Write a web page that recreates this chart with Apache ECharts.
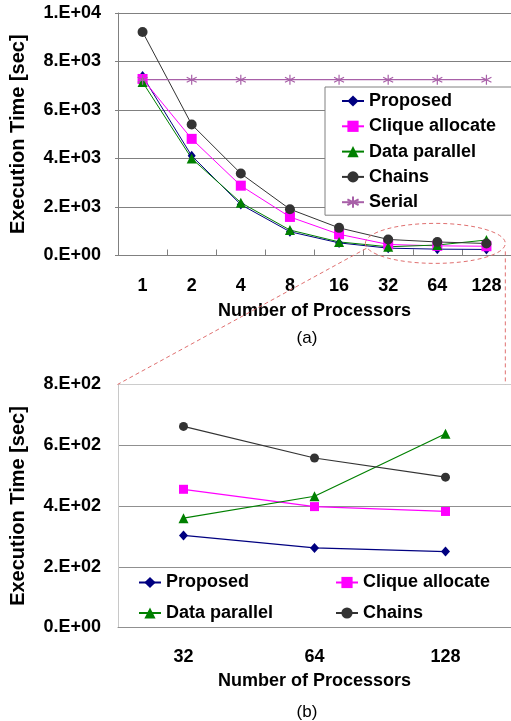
<!DOCTYPE html>
<html>
<head>
<meta charset="utf-8">
<script src="https://cdn.jsdelivr.net/npm/echarts@6/dist/echarts.min.js"></script>
<style>
html,body{margin:0;padding:0;background:#fff;}
#chart{width:511px;height:721px;}
</style>
</head>
<body>
<div id="chart"></div>
<script>
// ---- data ----
var categoriesTop = ['1', '2', '4', '8', '16', '32', '64', '128'];
var proposedTop = [7400, 4110, 2100, 980, 520, 303, 262, 250];
var cliqueTop = [7280, 4810, 2880, 1590, 876, 455, 398, 382];
var dataParallelTop = [7150, 4000, 2180, 1050, 560, 360, 432, 638];
var chainsTop = [9220, 5400, 3380, 1910, 1140, 662, 558, 495];
var serialTop = [7250, 7250, 7250, 7250, 7250, 7250, 7250, 7250];
var yTicksTop = ['0.E+00', '2.E+03', '4.E+03', '6.E+03', '8.E+03', '1.E+04'];

var categoriesBottom = ['32', '64', '128'];
var proposedBottom = [303, 262, 250];
var cliqueBottom = [455, 398, 382];
var dataParallelBottom = [360, 432, 638];
var chainsBottom = [662, 558, 495];
var yTicksBottom = ['0.E+00', '2.E+02', '4.E+02', '6.E+02', '8.E+02'];

var seriesNames = ['Proposed', 'Clique allocate', 'Data parallel', 'Chains', 'Serial'];

// ---- styles ----
var FONT = 'Liberation Sans';
var C = {
  'Proposed': '#000080',
  'Clique allocate': '#ff00ff',
  'Data parallel': '#008000',
  'Chains': '#333333',
  'Serial': '#a860a8'
};
var starPath = 'path://M5,0L5,10M0.7,2.5L9.3,7.5M0.7,7.5L9.3,2.5';
var boldText = { fontFamily: FONT, fontWeight: 'bold', fontSize: 18, color: '#000' };

function mk(name, data, xi, sym, size, lw) {
  var s = {
    name: name, type: 'line', xAxisIndex: xi, yAxisIndex: xi, data: data,
    symbol: sym, symbolSize: size, showAllSymbol: true, animation: false,
    color: C[name],
    lineStyle: { color: C[name], width: lw },
    itemStyle: { color: C[name] },
    z: 3
  };
  if (name === 'Serial') {
    s.itemStyle = { color: C[name], borderColor: C[name], borderWidth: 1.2 };
  }
  return s;
}

var chart = echarts.init(document.getElementById('chart'), null, { renderer: 'canvas' });

var legendCommon = { padding: 0, itemWidth: 22, itemHeight: 14, textStyle: boldText, selectedMode: false };

var option = {
  backgroundColor: '#fff',
  animation: false,
  textStyle: { fontFamily: FONT },
  grid: [
    { left: 117, top: 13, width: 398, height: 242.5, containLabel: false },
    { left: 117, top: 384.5, width: 398, height: 243, containLabel: false }
  ],
  xAxis: [
    {
      type: 'category', gridIndex: 0, data: categoriesTop, boundaryGap: true,
      axisLine: { lineStyle: { color: '#808080', width: 1 } },
      axisTick: { show: true, inside: true, length: 6, lineStyle: { color: '#808080' } },
      axisLabel: Object.assign({ margin: 22 }, boldText),
      name: 'Number of Processors', nameLocation: 'middle', nameGap: 47,
      nameTextStyle: boldText
    },
    {
      type: 'category', gridIndex: 1, data: categoriesBottom, boundaryGap: true,
      axisLine: { lineStyle: { color: '#909090', width: 1 } },
      axisTick: { show: false },
      axisLabel: Object.assign({ margin: 21 }, boldText),
      name: 'Number of Processors', nameLocation: 'middle', nameGap: 44.5,
      nameTextStyle: boldText
    }
  ],
  yAxis: [
    {
      type: 'value', gridIndex: 0, min: 0, max: 10000, interval: 2000,
      axisLine: { show: true, lineStyle: { color: '#808080' } },
      axisTick: { show: true, length: 3, lineStyle: { color: '#808080' } },
      splitLine: { show: true, lineStyle: { color: '#808080', width: 1 } },
      axisLabel: Object.assign({ margin: 17, formatter: function (v) { return yTicksTop[Math.round(v / 2000)]; } }, boldText),
      name: 'Execution Time [sec]', nameLocation: 'middle', nameRotate: 90, nameGap: 90,
      nameTextStyle: Object.assign({}, boldText, { fontSize: 20 })
    },
    {
      type: 'value', gridIndex: 1, min: 0, max: 800, interval: 200,
      axisLine: { show: true, lineStyle: { color: '#c8c8c8' } },
      axisTick: { show: false },
      splitLine: { show: true, lineStyle: { color: ['#909090', '#909090', '#909090', '#909090', '#cccccc'], width: 1 } },
      axisLabel: Object.assign({ margin: 17, formatter: function (v) { return yTicksBottom[Math.round(v / 200)]; } }, boldText),
      name: 'Execution Time [sec]', nameLocation: 'middle', nameRotate: 90, nameGap: 90,
      nameTextStyle: Object.assign({}, boldText, { fontSize: 20 })
    }
  ],
  legend: [
    {
      data: seriesNames, orient: 'vertical', left: 325, top: 87,
      padding: [5, 20, 4, 16], itemGap: 7.3, itemWidth: 22, itemHeight: 14,
      backgroundColor: '#fff', borderColor: '#808080', borderWidth: 1,
      textStyle: boldText, selectedMode: false
    },
    Object.assign({ data: ['Proposed'], left: 138, top: 573.5 }, legendCommon),
    Object.assign({ data: ['Clique allocate'], left: 335, top: 573.5 }, legendCommon),
    Object.assign({ data: ['Data parallel'], left: 138, top: 604 }, legendCommon),
    Object.assign({ data: ['Chains'], left: 335, top: 604 }, legendCommon)
  ],
  series: [
    mk('Proposed', proposedTop, 0, 'diamond', [8, 10], 1),
    mk('Clique allocate', cliqueTop, 0, 'rect', 10, 1),
    mk('Data parallel', dataParallelTop, 0, 'triangle', 10, 1),
    mk('Chains', chainsTop, 0, 'circle', 10, 1),
    mk('Serial', serialTop, 0, starPath, 10, 1.2),
    mk('Proposed', proposedBottom, 1, 'diamond', [9, 10], 1.2),
    mk('Clique allocate', cliqueBottom, 1, 'rect', 9, 1.2),
    mk('Data parallel', dataParallelBottom, 1, 'triangle', 10, 1.2),
    mk('Chains', chainsBottom, 1, 'circle', 9, 1.2)
  ]
};
chart.setOption(option);

// ---- annotations: (a), (b), zoom ellipse and connecting dashed lines ----
var pc = chart.convertToPixel({ xAxisIndex: 0, yAxisIndex: 0 }, ['64', 500]);
var pBotTL = chart.convertToPixel({ xAxisIndex: 1, yAxisIndex: 1 }, ['32', 800]);
var bottomTop = pBotTL[1];
var topLeftX = 117.5;
var cx = pc[0] - 2, cy = pc[1], rx = 70, ry = 20;
var dash = { stroke: '#e07070', lineWidth: 1, lineDash: [4, 3], fill: null };
chart.setOption({
  graphic: [
    { type: 'ellipse', shape: { cx: cx, cy: cy, rx: rx, ry: ry }, style: dash, z: 10, silent: true },
    { type: 'line', shape: { x1: cx - rx + 1, y1: cy + 5, x2: topLeftX, y2: bottomTop }, style: dash, z: 10, silent: true },
    { type: 'line', shape: { x1: cx + rx, y1: cy + 8, x2: cx + rx, y2: bottomTop }, style: dash, z: 10, silent: true },
    { type: 'text', x: 307, y: 338, style: { text: '(a)', font: '17px "Liberation Sans"', fill: '#000', align: 'center', verticalAlign: 'middle' }, silent: true },
    { type: 'text', x: 307, y: 712, style: { text: '(b)', font: '17px "Liberation Sans"', fill: '#000', align: 'center', verticalAlign: 'middle' }, silent: true }
  ]
});
</script>
</body>
</html>
